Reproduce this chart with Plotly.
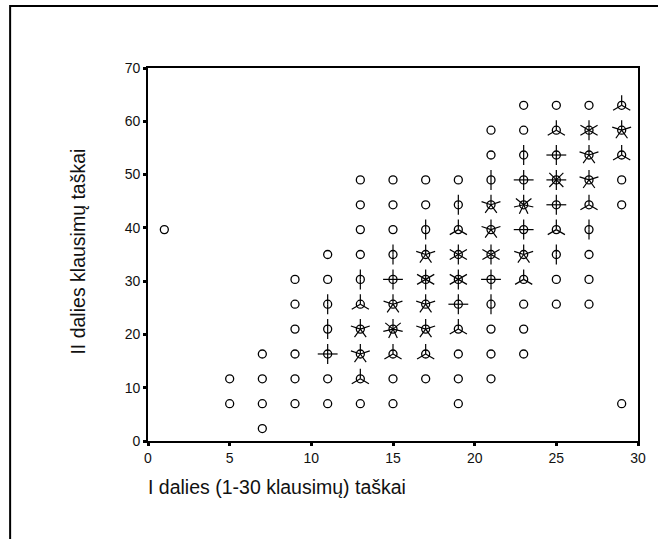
import math
import plotly.graph_objects as go

# ---- data: sunflower cells (bin centre x, bin centre y, number of cases) ----
cell_x = [1,
          5, 5,
          7, 7, 7, 7,
          9, 9, 9, 9, 9, 9,
          11, 11, 11, 11, 11, 11, 11,
          13, 13, 13, 13, 13, 13, 13, 13, 13, 13,
          15, 15, 15, 15, 15, 15, 15, 15, 15, 15,
          17, 17, 17, 17, 17, 17, 17, 17, 17,
          19, 19, 19, 19, 19, 19, 19, 19, 19, 19,
          21, 21, 21, 21, 21, 21, 21, 21, 21, 21, 21,
          23, 23, 23, 23, 23, 23, 23, 23, 23, 23, 23,
          25, 25, 25, 25, 25, 25, 25, 25, 25,
          27, 27, 27, 27, 27, 27, 27, 27, 27,
          29, 29, 29, 29, 29, 29]
cell_y = [39.67,
          7.0, 11.67,
          2.33, 7.0, 11.67, 16.33,
          7.0, 11.67, 16.33, 21.0, 25.67, 30.33,
          7.0, 11.67, 16.33, 21.0, 25.67, 30.33, 35.0,
          7.0, 11.67, 16.33, 21.0, 25.67, 30.33, 35.0, 39.67, 44.33, 49.0,
          7.0, 11.67, 16.33, 21.0, 25.67, 30.33, 35.0, 39.67, 44.33, 49.0,
          11.67, 16.33, 21.0, 25.67, 30.33, 35.0, 39.67, 44.33, 49.0,
          7.0, 11.67, 16.33, 21.0, 25.67, 30.33, 35.0, 39.67, 44.33, 49.0,
          11.67, 16.33, 21.0, 25.67, 30.33, 35.0, 39.67, 44.33, 49.0, 53.67, 58.33,
          16.33, 21.0, 25.67, 30.33, 35.0, 39.67, 44.33, 49.0, 53.67, 58.33, 63.0,
          25.67, 30.33, 35.0, 39.67, 44.33, 49.0, 53.67, 58.33, 63.0,
          25.67, 30.33, 35.0, 39.67, 44.33, 49.0, 53.67, 58.33, 63.0,
          7.0, 44.33, 49.0, 53.67, 58.33, 63.0]
cell_n = [1,
          1, 1,
          1, 1, 1, 1,
          1, 1, 1, 1, 1, 1,
          1, 1, 4, 2, 2, 1, 1,
          1, 3, 5, 5, 3, 2, 1, 1, 1, 1,
          1, 1, 3, 7, 5, 4, 2, 1, 1, 1,
          1, 3, 5, 5, 6, 5, 2, 1, 1,
          1, 1, 1, 3, 4, 6, 6, 3, 2, 1,
          1, 1, 1, 2, 4, 6, 5, 5, 2, 1, 1,
          1, 1, 1, 3, 5, 4, 7, 4, 2, 1, 1,
          1, 1, 2, 3, 4, 8, 4, 3, 1,
          1, 1, 1, 2, 3, 5, 5, 6, 1,
          1, 1, 1, 3, 5, 3]

x_ticks = [0, 5, 10, 15, 20, 25, 30]
y_ticks = [0, 10, 20, 30, 40, 50, 60, 70]
x_title = "I dalies (1-30 klausimų) taškai"
y_title = "II dalies klausimų taškai"

# ---- layout geometry ----
W, H = 658, 539
ML, MR, MT, MB = 148, 16, 68, 98
XR = (0, 30)
YR = (0, 70)
plot_w = W - ML - MR
plot_h = H - MT - MB
PETAL_PX = 10

# petals: one line per case, evenly spaced starting straight up
px_x = (XR[1] - XR[0]) / plot_w
px_y = (YR[1] - YR[0]) / plot_h
lx, ly = [], []
for x, y, n in zip(cell_x, cell_y, cell_n):
    if n < 2:
        continue
    for i in range(n):
        a = 2 * math.pi * i / n
        lx += [x, x + PETAL_PX * math.sin(a) * px_x, None]
        ly += [y, y + PETAL_PX * math.cos(a) * px_y, None]

fig = go.Figure()
fig.add_trace(go.Scatter(x=lx, y=ly, mode="lines",
                         line=dict(color="black", width=1.2),
                         hoverinfo="skip", showlegend=False))
fig.add_trace(go.Scatter(x=cell_x, y=cell_y, mode="markers",
                         marker=dict(symbol="circle-open", size=8,
                                     color="black", line=dict(width=1.3)),
                         showlegend=False))

font = dict(family="Liberation Sans, Arial, sans-serif", color="#111")
axis_common = dict(showgrid=False, zeroline=False, showline=True,
                   linecolor="black", linewidth=1.6, mirror=True,
                   ticks="outside", ticklen=3, tickwidth=3, tickcolor="black",
                   tickfont=dict(size=14, **font))
fig.update_xaxes(range=list(XR), tickvals=x_ticks, **axis_common)
fig.update_yaxes(range=list(YR), tickvals=y_ticks, **axis_common)

fig.update_layout(
    width=W, height=H,
    margin=dict(l=ML, r=MR, t=MT, b=MB, pad=0),
    paper_bgcolor="white", plot_bgcolor="white",
    font=font,
    annotations=[
        dict(text=x_title, xref="paper", yref="paper",
             x=-2 / plot_w, y=-(487 - (H - MB)) / plot_h, xanchor="left", yanchor="middle",
             showarrow=False, font=dict(size=19.5, **font)),
        dict(text=y_title, xref="paper", yref="paper", textangle=-90,
             x=(77 - ML) / plot_w, y=(H - MB - 252) / plot_h,
             xanchor="center", yanchor="middle",
             showarrow=False, font=dict(size=19.5, **font)),
    ],
    shapes=[
        dict(type="line", xref="paper", yref="paper",
             x0=(9 - ML) / plot_w, x1=(W + 20 - ML) / plot_w,
             y0=(H - MB - 6) / plot_h, y1=(H - MB - 6) / plot_h,
             line=dict(color="black", width=2)),
        dict(type="line", xref="paper", yref="paper",
             x0=(9 - ML) / plot_w, x1=(9 - ML) / plot_w,
             y0=-(H + 20 - (H - MB)) / plot_h, y1=(H - MB - 5) / plot_h,
             line=dict(color="black", width=2)),
    ],
)

fig.write_html("out.html", config={"displayModeBar": False},
               post_script="document.body.style.margin='0';document.body.style.overflow='hidden';")
